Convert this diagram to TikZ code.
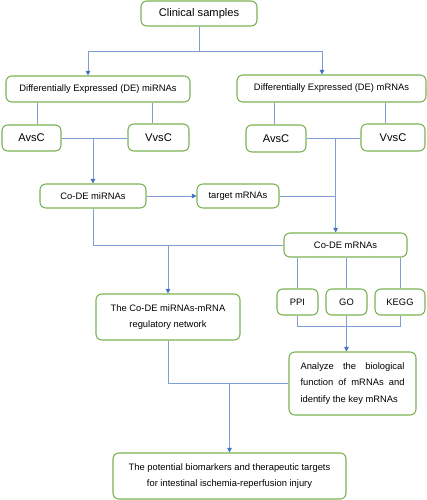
\documentclass[tikz,border=0pt]{standalone}
\usepackage{fontspec}
\setmainfont{Liberation Sans}
\usetikzlibrary{arrows.meta}
\definecolor{boxgreen}{RGB}{122,178,82}
\definecolor{linkblue}{RGB}{128,158,214}
\definecolor{tipblue}{RGB}{68,114,196}

\begin{document}
\begin{tikzpicture}[
  box/.style={draw=boxgreen, line width=0.9pt, rounded corners=5pt, inner sep=0pt,
    align=center, font=\fontsize{8}{14.2}\selectfont},
  bigbox/.style={box, font=\fontsize{9.5}{12}\selectfont},
  link/.style={draw=linkblue, line width=0.6pt},
  arr/.style={link, -{Triangle[length=4pt,width=4pt,color=tipblue]}}
]
\useasboundingbox (0,0) rectangle (12.81,-15);

% boxes
\node [bigbox, minimum width=3.48cm, minimum height=0.75cm] (clin) at (5.97,-0.405) {Clinical samples};
\node [box, minimum width=5.52cm, minimum height=0.78cm] (demi) at (2.94,-2.67) {Differentially Expressed (DE) miRNAs};
\node [box, minimum width=5.67cm, minimum height=0.81cm] (dem) at (9.945,-2.655) {Differentially Expressed (DE) mRNAs};

\node [bigbox, minimum width=1.77cm, minimum height=0.78cm] (avs1) at (0.945,-4.14) {AvsC};
\node [bigbox, minimum width=1.83cm, minimum height=0.81cm] (vvs1) at (4.755,-4.125) {VvsC};
\node [bigbox, minimum width=1.8cm, minimum height=0.81cm] (avs2) at (8.28,-4.155) {AvsC};
\node [bigbox, minimum width=1.92cm, minimum height=0.81cm] (vvs2) at (11.79,-4.125) {VvsC};

\node [box, minimum width=3.18cm, minimum height=0.72cm] (comi) at (2.79,-5.88) {Co-DE miRNAs};
\node [box, minimum width=2.46cm, minimum height=0.72cm] (tgt) at (7.14,-5.88) {target mRNAs};
\node [box, minimum width=3.69cm, minimum height=0.72cm] (com) at (10.365,-7.35) {Co-DE mRNAs};

\node [box, minimum width=4.32cm, minimum height=1.38cm] (net) at (5.04,-9.51) {The Co-DE miRNAs-mRNA\\regulatory network};
\node [box, minimum width=1.23cm, minimum height=0.78cm] (ppi) at (8.925,-9.06) {PPI};
\node [box, minimum width=1.23cm, minimum height=0.78cm] (go) at (10.395,-9.06) {GO};
\node [box, minimum width=1.5cm, minimum height=0.78cm] (kegg) at (12.0,-9.06) {KEGG};

\node [box, align=justify, text width=3.12cm, minimum width=3.81cm, minimum height=1.89cm] (ana) at (10.575,-11.505)
  {Analyze the biological\linebreak function of mRNAs and\linebreak identify the key mRNAs};
\node [box, minimum width=6.99cm, minimum height=1.38cm] (fin) at (6.885,-14.28)
  {The potential biomarkers and therapeutic targets\\for intestinal ischemia-reperfusion injury};

% split from clinical samples
\coordinate (s1) at (2.64,-1.53);
\coordinate (s2) at (9.66,-1.53);
\draw [link] (clin.south) -- (clin.south |- s1);
\draw [link] (s1) -- (s2);
\draw [arr] (s1) -- (s1 |- demi.north);
\draw [arr] (s2) -- (s2 |- dem.north);

% comparisons
\coordinate (d1) at (1.11,-3.5);
\coordinate (d2) at (4.56,-3.5);
\coordinate (d3) at (8.22,-3.5);
\coordinate (d4) at (11.55,-3.5);
\draw [link] (d1 |- demi.south) -- (d1 |- avs1.north);
\draw [link] (d2 |- demi.south) -- (d2 |- vvs1.north);
\draw [link] (d3 |- dem.south) -- (d3 |- avs2.north);
\draw [link] (d4 |- dem.south) -- (d4 |- vvs2.north);
\draw [link] (avs1.east) -- (avs1.east -| vvs1.west);
\draw [link] (avs2.east) -- (avs2.east -| vvs2.west);

% co-DE
\coordinate (j2) at (10.07,-4.155);
\draw [arr] (comi.north |- avs1.east) -- (comi.north);
\draw [arr] (j2) -- (j2 |- com.north);
\draw [arr] (comi.east) -- (tgt.west);
\draw [link] (tgt.east) -- (tgt.east -| j2);

% network
\draw [link] (comi.south) |- (com.west);
\draw [arr] (net.north |- com.west) -- (net.north);

% enrichment
\draw [link] (ppi.north |- com.south) -- (ppi.north);
\draw [link] (go.north |- com.south) -- (go.north);
\draw [link] (kegg.north |- com.south) -- (kegg.north);
\draw [link] (ppi.south) -- ++(0,-0.33) -| (kegg.south);
\draw [arr] (go.south) -- (go.south |- ana.north);

% final
\draw [link] (net.south) |- (ana.west);
\draw [arr] (fin.north |- ana.west) -- (fin.north);
\end{tikzpicture}
\end{document}
